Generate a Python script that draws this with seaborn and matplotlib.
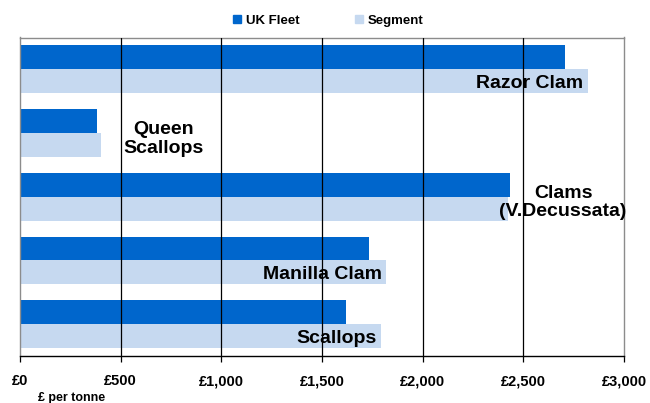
import matplotlib
matplotlib.use("Agg")
import matplotlib.pyplot as plt
from matplotlib.lines import Line2D
import seaborn as sns
import pandas as pd

# Average price by species, £ per tonne
categories = ["Razor Clam", "Queen\nScallops", "Clams\n(V.Decussata)", "Manilla Clam", "Scallops"]
uk_fleet = [2707, 382, 2435, 1731, 1621]
segment = [2821, 402, 2425, 1820, 1795]
series_names = ["UK Fleet", "Segment"]
tick_values = [0, 500, 1000, 1500, 2000, 2500, 3000]
tick_labels = ["£0", "£500", "£1,000", "£1,500", "£2,000", "£2,500", "£3,000"]
axis_title = "£ per tonne"

colors = {"UK Fleet": "#0066CC", "Segment": "#C6D9F0"}

df = pd.DataFrame({
    "species": categories * 2,
    "price": uk_fleet + segment,
    "series": [series_names[0]] * len(categories) + [series_names[1]] * len(categories),
})

sns.set_theme(style="white")
plt.rcParams["font.family"] = ["Liberation Sans", "DejaVu Sans"]
plt.rcParams["font.weight"] = "bold"
plt.rcParams["text.color"] = "black"
plt.rcParams["xtick.color"] = "black"
plt.rcParams["xtick.labelcolor"] = "black"

fig = plt.figure(figsize=(6.5, 4.03), dpi=100)
ax = fig.add_axes([20 / 650, 47 / 403, 604 / 650, 318.5 / 403])

sns.barplot(data=df, y="species", x="price", hue="series", order=categories,
            hue_order=series_names, palette=colors, orient="h", width=0.75,
            saturation=1, legend=False, ax=ax, zorder=2, linewidth=0)

ax.set_xlim(0, 3000)
ax.set_ylim(len(categories) - 0.5, -0.5)
ax.set_xticks(tick_values)
ax.set_xticklabels(tick_labels, fontsize=10.5, fontweight="bold", color="black")
ax.set_yticks([])
ax.set_xlabel("")
ax.set_ylabel("")

# vertical gridlines
for v in tick_values[1:-1]:
    ax.axvline(v, color="black", lw=0.9, zorder=3)

for side in ["left", "top", "right"]:
    ax.spines[side].set_color("#8C8C8C")
    ax.spines[side].set_linewidth(1.0)
ax.spines["bottom"].set_color("black")
ax.spines["bottom"].set_linewidth(1.0)
ax.tick_params(axis="x", bottom=True, direction="out", length=4, width=0.9,
               color="black", pad=9)

# category labels
half = 0.75 / 4
for i, name in enumerate(categories):
    if "\n" in name:
        bar_end = max(uk_fleet[i], segment[i])
        dx = 45 if i == 1 else 38
        ax.annotate(name, xy=(bar_end, i + 0.09), xytext=(dx, 0),
                    textcoords="offset points", ha="center", va="center",
                    fontsize=14, fontweight="bold", linespacing=1.15,
                    color="black", zorder=5)
    else:
        ax.annotate(name, xy=(segment[i], i + half + 0.03), xytext=(-3.5, 0),
                    textcoords="offset points", ha="right", va="center",
                    fontsize=14, fontweight="bold", color="black", zorder=5)

handles = [Line2D([], [], marker="s", linestyle="none", markersize=5.5,
                  markerfacecolor=colors[s], markeredgecolor=colors[s]) for s in series_names]
fig.legend(handles, series_names, loc="center", bbox_to_anchor=(328 / 650, 1 - 21 / 403),
           ncol=2, frameon=False, handlelength=0.7, handletextpad=0.3,
           columnspacing=4.2, prop={"weight": "bold", "size": 9.5})

fig.text(38 / 650, 1 - 392 / 403, axis_title, fontsize=9, fontweight="bold",
         ha="left", va="top", color="black")

fig.savefig("out.png", dpi=100, facecolor="white")
